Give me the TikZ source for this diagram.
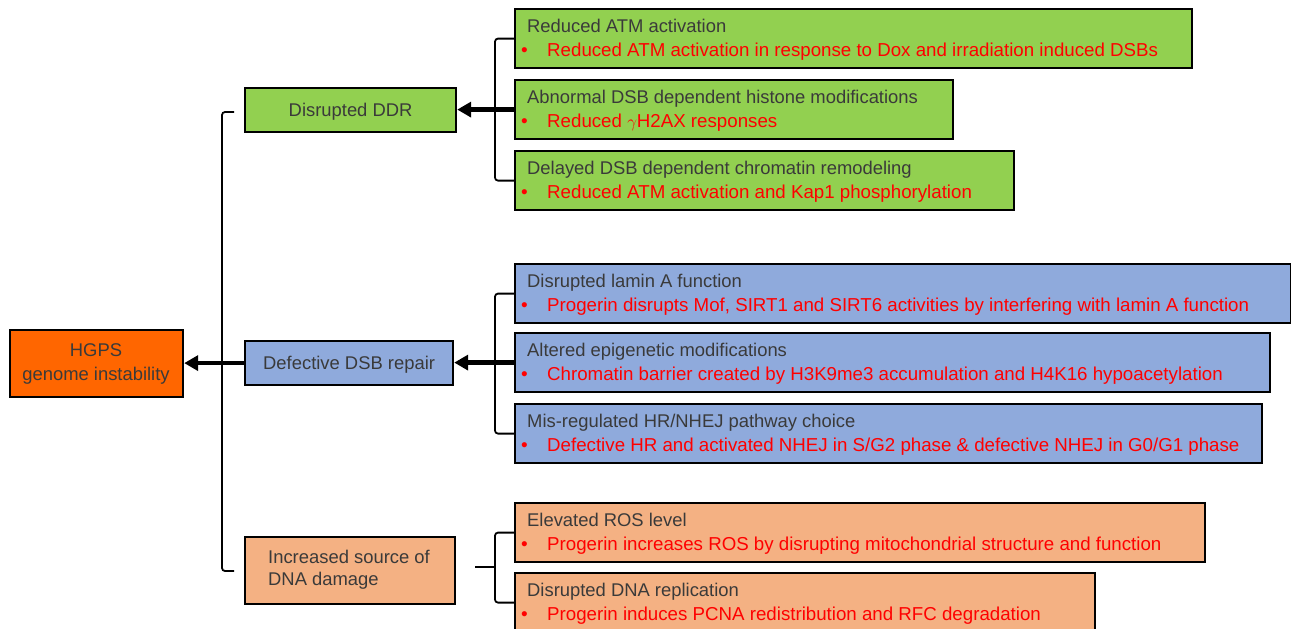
\documentclass[tikz,border=0pt]{standalone}
\usepackage{fontspec}
\setmainfont{Liberation Sans}
\usetikzlibrary{arrows.meta}
\definecolor{cgreen}{HTML}{92D050}
\definecolor{cblue}{HTML}{8FAADC}
\definecolor{corange}{HTML}{FF6600}
\definecolor{cpeach}{HTML}{F4B183}
\definecolor{ctext}{HTML}{3A3A3A}
\definecolor{cred}{HTML}{FF0000}
\begin{document}
\begin{tikzpicture}[x=1pt,y=-1pt,
  box/.style={draw=black, line width=2.2pt, anchor=north west, inner sep=0pt},
  txt/.style={inner sep=0pt, text=ctext, font=\fontsize{18.4}{22}\selectfont},
  ttl/.style={txt, anchor=base west},
  itm/.style={anchor=base west, inner sep=0pt, text=cred, font=\fontsize{18.7}{22}\selectfont},
  bul/.style={anchor=base west, inner sep=0pt, text=cred, font=\fontsize{19}{22}\selectfont},
  conn/.style={line width=1.8pt, rounded corners=3pt},
  bigarrow/.style={line width=4.5pt, -{Triangle[length=14pt,width=15pt]}}
]
\useasboundingbox (0,0) rectangle (1291,629);

% left column boxes
\node[box, fill=corange, minimum width=173pt, minimum height=67pt] (hgps) at (9,329) {};
\node[txt, anchor=base] (hgpst1) at (96,356) {HGPS};
\node[txt, anchor=base] (hgpst2) at (96,380) {genome instability};

\node[box, fill=cgreen, minimum width=211pt, minimum height=44pt] (ddr) at (244,87) {};
\node[txt, anchor=base] (ddrt) at ([yshift=-6.5pt]ddr.center) {Disrupted DDR};

\node[box, fill=cblue, minimum width=208pt, minimum height=44pt] (dsb) at (244,340) {};
\node[txt, anchor=base] (dsbt) at ([yshift=-6.5pt]dsb.center) {Defective DSB repair};

\node[box, fill=cpeach, minimum width=210pt, minimum height=67pt] (inc) at (244,536) {};
\node[txt, anchor=base west] (inct1) at (268,563) {Increased source of};
\node[txt, anchor=base west] (inct2) at (268,585) {DNA damage};

% right column boxes
\newcommand{\rbox}[6]{%
  \node[box, fill=#2, minimum width=#4pt, minimum height=59pt] (#1) at (514,#3) {};
  \node[ttl] (#1t) at (527,#3+24.5) {#5};
  \node[bul] (#1b) at (521,#3+48.5) {\textbullet};
  \node[itm] (#1i) at (547,#3+48.5) {#6};
}
\rbox{r1}{cgreen}{8}{677}{Reduced ATM activation}{Reduced ATM activation in response to Dox and irradiation induced DSBs}
\rbox{r2}{cgreen}{79}{438}{Abnormal DSB dependent histone modifications}{Reduced $\gamma$H2AX responses}
\rbox{r3}{cgreen}{150}{499}{Delayed DSB dependent chromatin remodeling}{Reduced ATM activation and Kap1 phosphorylation}
\rbox{r4}{cblue}{263}{776}{Disrupted lamin A function}{Progerin disrupts Mof, SIRT1 and SIRT6 activities by interfering with lamin A function}
\rbox{r5}{cblue}{332}{755}{Altered epigenetic modifications}{Chromatin barrier created by H3K9me3 accumulation and H4K16 hypoacetylation}
\rbox{r6}{cblue}{403}{747}{Mis-regulated HR/NHEJ pathway choice}{Defective HR and activated NHEJ in S/G2 phase \& defective NHEJ in G0/G1 phase}
\rbox{r7}{cpeach}{502}{690}{Elevated ROS level}{Progerin increases ROS by disrupting mitochondrial structure and function}
\rbox{r8}{cpeach}{572}{580}{Disrupted DNA replication}{Progerin induces PCNA redistribution and RFC degradation}

% brackets
\coordinate (mt) at (234,112);
\coordinate (mb) at (234,571);
\draw[conn] (mt) -- ++(-12,0) |- (mb);
\draw[conn] (r1.west) -- ++(-19,0) |- (r3.west);
\draw[conn] (r4.west) -- ++(-19,0) |- (r6.west);
\draw[conn] (r7.west) -- ++(-19,0) |- (r8.west);
\coordinate (bt) at (475,567);
\draw[line width=1.8pt] (bt) -- ++(20,0);

% arrows
\draw[bigarrow] (r2.west) -- (r2.west -| ddr.east);
\draw[bigarrow] (r5.west) -- (r5.west -| dsb.east);
\draw[bigarrow] (dsb.west) -- (dsb.west -| hgps.east);
\end{tikzpicture}
\end{document}
